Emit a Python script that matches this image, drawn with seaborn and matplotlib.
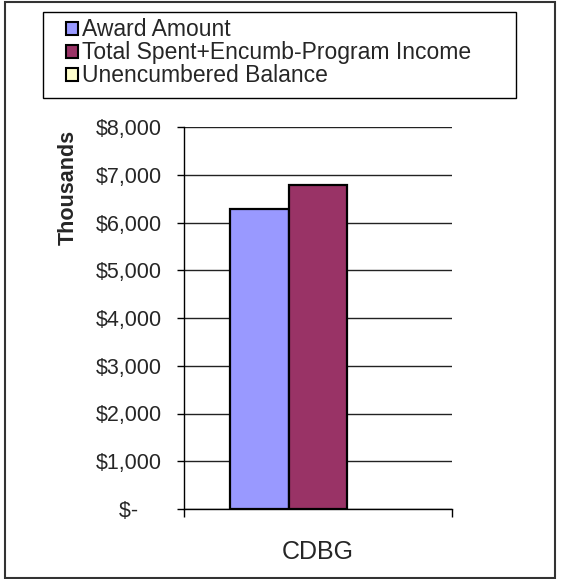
import matplotlib
matplotlib.use("Agg")
import matplotlib.pyplot as plt
from matplotlib.patches import Rectangle
import seaborn as sns
import pandas as pd

categories = ["CDBG"]
series = ["Award Amount", "Total Spent+Encumb-Program Income", "Unencumbered Balance"]
values = [6280, 6790, 0]  # thousands of dollars
colors = ["#9999FF", "#993366", "#FFFFCC"]
yticks = [0, 1000, 2000, 3000, 4000, 5000, 6000, 7000, 8000]
ytick_labels = ["$-    ", "$1,000", "$2,000", "$3,000", "$4,000", "$5,000", "$6,000", "$7,000", "$8,000"]

df = pd.DataFrame({"Program": categories * len(series), "Series": series, "Amount": values})

sns.set_style("white")
plt.rcParams["font.family"] = ["Liberation Sans", "DejaVu Sans"]

W, H = 563, 579
fig = plt.figure(figsize=(W / 100, H / 100), dpi=100)
ax = fig.add_axes([184 / W, 1 - 509 / H, (452 - 184) / W, (509 - 127) / H])

sns.barplot(data=df, x="Program", y="Amount", hue="Series", palette=dict(zip(series, colors)),
            saturation=1, width=0.66, gap=0, edgecolor="black", linewidth=1.6, ax=ax, legend=True)
for p in ax.patches:
    if p.get_height() == 0:
        p.set_linewidth(0)

ax.set_xlim(-0.5, 0.5)
ax.set_ylim(0, 8000)
ax.set_yticks(yticks)
ax.set_yticklabels(ytick_labels)
ax.yaxis.grid(True, color="#222222", linewidth=1.0)
ax.set_axisbelow(True)
for s in ["top", "right"]:
    ax.spines[s].set_visible(False)
for s in ["left", "bottom"]:
    ax.spines[s].set_color("black")
    ax.spines[s].set_linewidth(1.0)
ax.tick_params(axis="y", direction="out", length=5, width=1, color="black", pad=11, labelsize=15.5, left=True)
ax.set_xticks([0])
ax.set_xticklabels(categories)
ax.set_xticks([-0.5, 0.5], minor=True)
ax.tick_params(axis="x", which="major", length=0, pad=22, labelsize=18)
ax.tick_params(axis="x", which="minor", direction="out", length=6, width=1, color="black", bottom=True)
ax.set_xlabel("")
ax.set_ylabel("Thousands", fontsize=15.5, fontweight="bold")
ax.yaxis.set_label_coords((79 - 184) / 268, (509 - 187) / 382)

handles, labels = ax.get_legend_handles_labels()
ax.legend(handles, labels, loc="center left", bbox_to_anchor=(55 / W, 1 - 53 / H),
          bbox_transform=fig.transFigure, frameon=False, fontsize=16.5,
          handlelength=0.5, handleheight=0.5, handletextpad=0.2, labelspacing=0.0, borderpad=0)
for h in ax.get_legend().legend_handles:
    h.set_edgecolor("black")
    h.set_linewidth(1.5)

fig.patches.append(Rectangle((43 / W, 1 - 98 / H), (516 - 43) / W, (98 - 12) / H,
                             transform=fig.transFigure, fill=False, edgecolor="black", linewidth=1.0))
fig.patches.append(Rectangle((5 / W, 1 - 578 / H), (555 - 5) / W, (578 - 2) / H,
                             transform=fig.transFigure, fill=False, edgecolor="#333333", linewidth=1.5))

fig.savefig("out.png", dpi=100, facecolor="white")
